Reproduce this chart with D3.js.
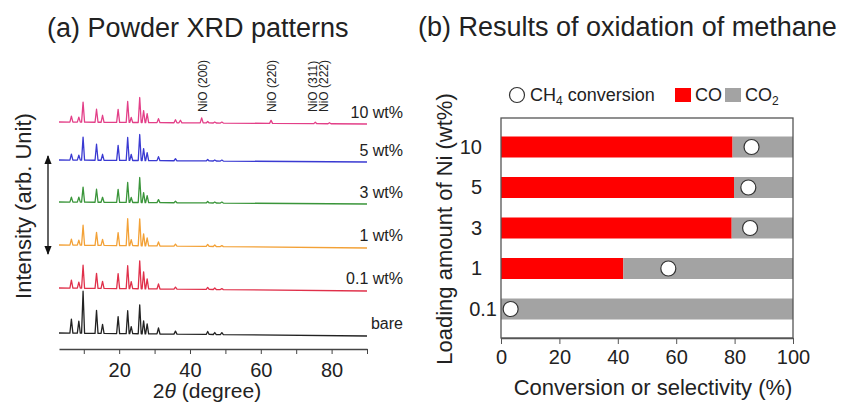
<html>
<head>
<style>
  body { margin: 0; background: #fff; }
  text { font-family: "Liberation Sans", Arial, sans-serif; fill: #222; }
</style>
</head>
<body>
<script src="https://d3js.org/d3.v7.min.js"></script>
<div id="chart"></div>
<script>
// ---- (a) XRD data: peak positions (2theta) and heights (arb.) ----
var samples = ["bare", "0.1 wt%", "1 wt%", "3 wt%", "5 wt%", "10 wt%"];
var sampleColors = ["#222222", "#e0304a", "#f3a136", "#3a953a", "#3a3ad2", "#e33f88"];
var sampleOffsets = [0, 45, 88, 131, 173, 211];
var baseDrift = [-3, -3, -3, -2, -2, -2];

var peakPos = [6.5, 8.6, 9.8, 13.6, 15.3, 19.7, 22.4, 23.4, 25.8, 26.9, 27.9, 31.1, 35.9, 45.0, 47.0, 49.0];
var heightsBare = [14, 12, 42, 23, 9, 17, 23, 7, 29, 13, 10, 6, 3, 3, 2, 2];
var heights01   = [8, 6, 23, 15, 7, 15, 23, 7, 28, 17, 10, 5, 2, 2, 1.5, 1];
var heights1    = [6, 5, 20, 13, 6, 13, 27, 6, 27, 12, 8, 4, 2, 2, 1.5, 1];
var heights3    = [5, 5, 15, 13, 5, 13, 20, 5, 25, 10, 7, 3, 1.5, 1.5, 1, 1];
var heights5    = [6, 5, 23, 16, 6, 15, 23, 6, 26, 12, 8, 4, 2, 1.5, 1, 1];
var heights10   = [6, 5, 20, 13, 7, 13, 21, 5, 25, 12, 9, 4, 3, 1.5, 1, 1];
var allHeights = [heightsBare, heights01, heights1, heights3, heights5, heights10];

// NiO reflections (only visible for 10 wt%)
var nioPos = [37.3, 43.3, 62.9, 75.4, 79.4];
var nioHeights10 = [2.5, 5, 3, 1.5, 1];
var nioLabels = ["", "NiO (200)", "NiO (220)", "NiO (311)", "NiO (222)"];

var xrdTicks = [10, 20, 30, 40, 50, 60, 70, 80, 90];

// ---- (b) methane oxidation data ----
var loadings = ["10", "5", "3", "1", "0.1"];
var coSel = [79.3, 79.8, 79.0, 41.9, 0];
var co2Sel = [20.7, 20.2, 21.0, 58.1, 100];
var ch4Conv = [85.8, 84.7, 85.3, 57.3, 3.3];
var convTicks = [0, 20, 40, 60, 80, 100];

var svg = d3.select("#chart").append("svg")
  .attr("width", 843).attr("height", 405);

// ================= panel (a) =================
var xA = d3.scaleLinear().domain([3, 90]).range([59, 367]);
var yA = d3.scaleLinear().domain([0, 250]).range([333, 83]);

svg.append("text").attr("x", 47).attr("y", 37)
  .style("font-size", "27px").text("(a) Powder XRD patterns");

var line = d3.line().x(function(d) { return xA(d[0]); }).y(function(d) { return yA(d[1]); });
var hw = 0.42;

samples.forEach(function(name, i) {
  var peaks = peakPos.map(function(p, k) { return [p, allHeights[i][k]]; });
  if (name === "10 wt%") {
    nioPos.forEach(function(p, k) { peaks.push([p, nioHeights10[k]]); });
  }
  peaks.sort(function(a, b) { return a[0] - b[0]; });
  var base = function(x) { return sampleOffsets[i] + baseDrift[i] * (x - 3) / 87; };
  var pts = [[3, base(3)]];
  peaks.forEach(function(pk) {
    pts.push([pk[0] - hw, base(pk[0] - hw)]);
    pts.push([pk[0], base(pk[0]) + pk[1]]);
    pts.push([pk[0] + hw, base(pk[0] + hw)]);
  });
  pts.push([90, base(90)]);
  svg.append("path").datum(pts)
    .attr("d", line)
    .attr("fill", "none")
    .attr("stroke", sampleColors[i])
    .attr("stroke-width", 1.3)
    .attr("stroke-linejoin", "round");

  svg.append("text")
    .attr("x", 403).attr("y", yA(sampleOffsets[i]) - 4)
    .attr("text-anchor", "end")
    .style("font-size", "16px")
    .text(name);
});

// NiO labels
nioLabels.forEach(function(lab, k) {
  if (!lab) return;
  var dx = 5;
  if (k === 3) dx = 2;
  if (k === 4) dx = -1;
  var px = xA(nioPos[k]) + dx;
  svg.append("text")
    .attr("transform", "translate(" + px + ",112) rotate(-90)")
    .style("font-size", "12px")
    .text(lab);
});

var axA = svg.append("g")
  .attr("transform", "translate(0,349)")
  .call(d3.axisBottom(xA).tickValues(xrdTicks)
    .tickFormat(function(d) { return d % 20 === 0 ? d : ""; })
    .tickSize(5).tickSizeOuter(0).tickPadding(9));
axA.select(".domain").attr("stroke", "#444").attr("stroke-width", 1.5);
axA.selectAll(".tick line").attr("stroke", "#444");
axA.selectAll(".tick text").style("font-size", "20px")
  .style("font-family", "Liberation Sans, Arial, sans-serif").attr("fill", "#222");

var xt = svg.append("text").attr("x", 207).attr("y", 398)
  .attr("text-anchor", "middle").style("font-size", "21px");
xt.append("tspan").text("2");
xt.append("tspan").style("font-style", "italic").text("θ");
xt.append("tspan").text(" (degree)");

svg.append("text")
  .attr("transform", "translate(31,206) rotate(-90)")
  .attr("text-anchor", "middle").style("font-size", "22px")
  .text("Intensity (arb. Unit)");

// double arrow
var defs = svg.append("defs");
defs.append("marker").attr("id", "ah")
  .attr("viewBox", "0 0 10 10").attr("refX", 9).attr("refY", 5)
  .attr("markerWidth", 7).attr("markerHeight", 7).attr("orient", "auto-start-reverse")
  .append("path").attr("d", "M0,1 L10,5 L0,9 z").attr("fill", "#111");
svg.append("line")
  .attr("x1", 48).attr("x2", 48).attr("y1", 156).attr("y2", 254)
  .attr("stroke", "#111").attr("stroke-width", 1.3)
  .attr("marker-start", "url(#ah)").attr("marker-end", "url(#ah)");

// ================= panel (b) =================
svg.append("text").attr("x", 418).attr("y", 36)
  .style("font-size", "27px").text("(b) Results of oxidation of methane");

var xB = d3.scaleLinear().domain([0, 100]).range([501, 793]);
var yB = d3.scalePoint().domain(loadings).range([118, 338]).padding(0.716);
var barH = 21;

var rows = loadings.map(function(l, i) { return { load: l, CO: coSel[i], CO2: co2Sel[i], conv: ch4Conv[i] }; });
var stack = d3.stack().keys(["CO", "CO2"])(rows);
var barColors = { CO: "#ff0000", CO2: "#a3a3a3" };

stack.forEach(function(layer) {
  svg.append("g").selectAll("rect")
    .data(layer).enter().append("rect")
    .attr("x", function(d) { return xB(d[0]); })
    .attr("width", function(d) { return xB(d[1]) - xB(d[0]); })
    .attr("y", function(d) { return yB(d.data.load) - barH / 2; })
    .attr("height", barH)
    .attr("fill", barColors[layer.key]);
});

svg.append("g").selectAll("circle")
  .data(rows).enter().append("circle")
  .attr("cx", function(d) { return xB(d.conv); })
  .attr("cy", function(d) { return yB(d.load); })
  .attr("r", 7.5)
  .attr("fill", "#fff").attr("stroke", "#333").attr("stroke-width", 1.2);

// frame
svg.append("rect").attr("x", 501).attr("y", 118).attr("width", 292).attr("height", 220)
  .attr("fill", "none").attr("stroke", "#555").attr("stroke-width", 1.3);

var axB = svg.append("g").attr("transform", "translate(0,338)")
  .call(d3.axisBottom(xB).tickValues(convTicks).tickSize(6).tickSizeOuter(0).tickPadding(6));
axB.select(".domain").attr("stroke", "#555").attr("stroke-width", 1.3);
axB.selectAll(".tick line").attr("stroke", "#555");
axB.selectAll(".tick text").style("font-size", "20px")
  .style("font-family", "Liberation Sans, Arial, sans-serif").attr("fill", "#222");

var ayB = svg.append("g").attr("transform", "translate(501,0)")
  .call(d3.axisLeft(yB).tickSize(0).tickPadding(19));
ayB.select(".domain").remove();
ayB.selectAll(".tick text").style("font-size", "20px")
  .style("font-family", "Liberation Sans, Arial, sans-serif").attr("fill", "#222")
  .attr("dx", function(d) { return d === "0.1" ? 15 : 0; });

svg.append("text").attr("x", 653).attr("y", 395)
  .attr("text-anchor", "middle").style("font-size", "22px")
  .text("Conversion or selectivity (%)");

svg.append("text")
  .attr("transform", "translate(452,229) rotate(-90)")
  .attr("text-anchor", "middle").style("font-size", "22px")
  .text("Loading amount of Ni (wt%)");

// legend
var lg = svg.append("g");
lg.append("circle").attr("cx", 517).attr("cy", 95).attr("r", 7.5)
  .attr("fill", "#fff").attr("stroke", "#333").attr("stroke-width", 1.2);
var t1 = lg.append("text").attr("x", 530).attr("y", 101).style("font-size", "18px");
t1.append("tspan").text("CH");
t1.append("tspan").attr("dy", 4).style("font-size", "12px").text("4");
t1.append("tspan").attr("dy", -4).text(" conversion");
lg.append("rect").attr("x", 675).attr("y", 88).attr("width", 16).attr("height", 14).attr("fill", barColors.CO);
lg.append("text").attr("x", 695).attr("y", 101).style("font-size", "18px").text("CO");
lg.append("rect").attr("x", 725).attr("y", 88).attr("width", 16).attr("height", 14).attr("fill", barColors.CO2);
var t2 = lg.append("text").attr("x", 745).attr("y", 101).style("font-size", "18px");
t2.append("tspan").text("CO");
t2.append("tspan").attr("dy", 4).style("font-size", "12px").text("2");
</script>
</body>
</html>
